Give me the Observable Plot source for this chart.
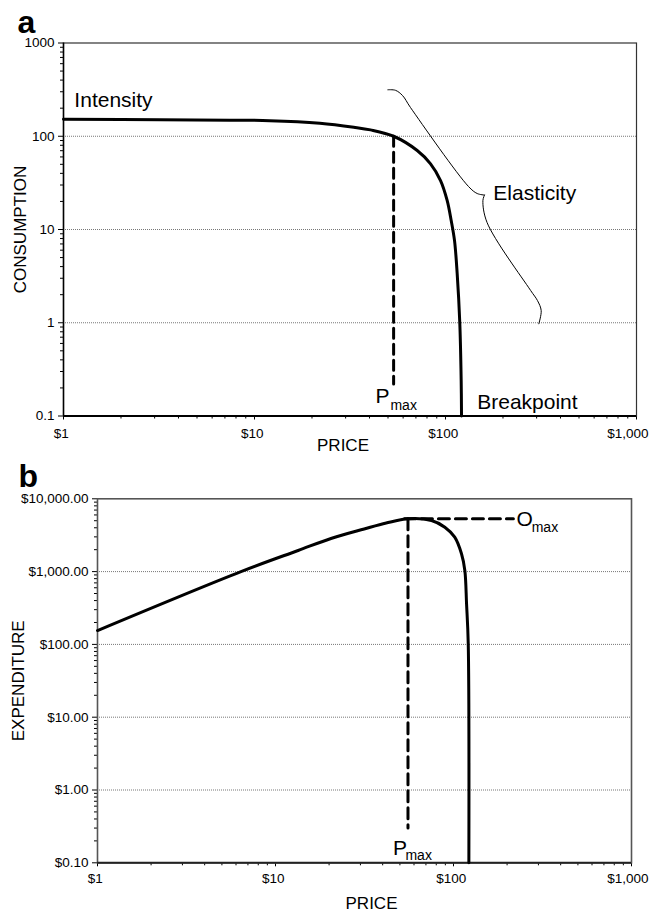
<!DOCTYPE html>
<html><head><meta charset="utf-8">
<script src="https://cdn.jsdelivr.net/npm/d3@7"></script>
<script src="https://cdn.jsdelivr.net/npm/@observablehq/plot@0.6"></script>
<style>
body{margin:0;background:#fff;}
#chart{width:649px;}
#chart svg{display:block;}
</style></head><body><div id="chart"></div>
<script>
// ---- Panel a: demand curve ----
const priceA = [1, 3.2, 12, 22, 33.1, 40.5, 53.5, 71.1, 83.5, 94.2, 102, 107.1, 111.5, 115.1, 118.8, 120.8, 121.3];
const consumptionA = [152, 150, 147, 138, 125, 117, 100, 70.3, 50.6, 33.5, 20.5, 12.5, 7.6, 3.38, 1.0, 0.24, 0.1];
const pmaxA = [53.5, 53.5];
const pmaxQA = [100, 0.22];
const braceUpperP = [49.9, 54.7, 59.6, 65.6, 132, 146.6, 160];
const braceUpperQ = [315, 311, 273, 203, 28.9, 24.3, 23.4];
const braceLowerP = [160, 157, 165, 279, 303, 317, 308];
const braceLowerQ = [23.4, 20.5, 11.9, 2.22, 1.73, 1.35, 0.975];
const gridA = [1, 10, 100];
const yTicksA = [0.1, 1, 10, 100, 1000];
const yTickLabelsA = ["0.1", "1", "10", "100", "1000"];
const xTicks = [1, 10, 100, 1000];
const xTickLabels = ["$1", "$10", "$100", "$1,000"];

// ---- Panel b: expenditure curve ----
const priceB = [1, 6.4, 13.4, 20.5, 31.5, 41.9, 55.6, 75.2, 89.4, 101.6, 110.9, 115.8, 118.4, 121, 122];
const expenditureB = [155, 1000, 1950, 2850, 3850, 4650, 5310, 5035, 4075, 2970, 1756, 1035, 361, 102, 0.1];
const pmaxB = [55.5, 55.5];
const pmaxEB = [5300, 0.3];
const omaxP = [53, 217];
const omaxE = [5300, 5300];
const gridB = [1, 10, 100, 1000];
const yTicksB = [0.1, 1, 10, 100, 1000, 10000];
const yTickLabelsB = ["$0.10", "$1.00", "$10.00", "$100.00", "$1,000.00", "$10,000.00"];

const font = "'Liberation Sans', Arial, Helvetica, sans-serif";
const tickFont = 13.5;
const minorOf = (dom, majors) => d3.scaleLog().domain(dom).ticks().filter(t => !majors.some(m => Math.abs(m - t) / m < 1e-9));
const xIdx = xTicks.map((t, i) => i);

function axes(yDomain, yTicks, yLabels, xLabelDy, lastDx) {
  return [
    Plot.axisY({ticks: minorOf(yDomain, yTicks), tickSize: 3, tickFormat: () => "", label: null}),
    Plot.axisY({ticks: yTicks, tickSize: 5, tickFormat: () => "", label: null}),
    Plot.axisX({ticks: minorOf([1, 1000], xTicks), tickSize: 3, tickFormat: () => "", label: null}),
    Plot.axisX({ticks: xTicks, tickSize: 4, tickFormat: () => "", label: null}),
    Plot.text(yTicks.map((t, i) => i), {y: i => yTicks[i], text: i => yLabels[i], frameAnchor: "left", dx: -9,
      textAnchor: "end", lineAnchor: "middle", fontSize: tickFont}),
    Plot.text(xIdx.slice(0, -1), {x: i => xTicks[i], text: i => xTickLabels[i], frameAnchor: "bottom", dy: xLabelDy, dx: -2.3,
      textAnchor: "middle", lineAnchor: "top", fontSize: tickFont}),
    Plot.text(xIdx.slice(-1), {x: i => xTicks[i], text: i => xTickLabels[i], frameAnchor: "bottom", dy: xLabelDy, dx: lastDx,
      textAnchor: "end", lineAnchor: "top", fontSize: tickFont})
  ];
}

const dataA = priceA.map((p, i) => ({p, q: consumptionA[i]}));
const pmaxLineA = pmaxA.map((p, i) => ({p, q: pmaxQA[i]}));
const brace = [
  ...braceUpperP.map((p, i) => ({p, q: braceUpperQ[i], s: "u"})),
  ...braceLowerP.map((p, i) => ({p, q: braceLowerQ[i], s: "l"}))
];

const chartA = Plot.plot({
  width: 649, height: 460,
  marginLeft: 63, marginRight: 13, marginTop: 42.5, marginBottom: 44.5,
  style: {fontFamily: font, fontSize: "13.5px", color: "#000", background: "#fff", overflow: "visible"},
  x: {type: "log", domain: [1, 1000]},
  y: {type: "log", domain: [0.1, 1000]},
  marks: [
    Plot.ruleY(gridA, {stroke: "#777", strokeDasharray: "1,1", strokeWidth: 1}),
    ...axes([0.1, 1000], yTicksA, yTickLabelsA, 12.8, 12),
    Plot.frame({stroke: "#333", strokeWidth: 1.2}),
    Plot.ruleX([1], {stroke: "#000", strokeWidth: 1.5}),
    Plot.ruleY([0.1], {stroke: "#000", strokeWidth: 2}),
    Plot.line(pmaxLineA, {x: "p", y: "q", stroke: "#000", strokeWidth: 3, strokeDasharray: "10,6"}),
    Plot.line(dataA, {x: "p", y: "q", stroke: "#000", strokeWidth: 3, curve: "catmull-rom"}),
    Plot.line(brace, {x: "p", y: "q", z: "s", stroke: "#000", strokeWidth: 1, curve: "catmull-rom"}),
    Plot.text(["Intensity"], {x: 1.14, y: 241, fontSize: 21, textAnchor: "start", lineAnchor: "middle"}),
    Plot.text(["Elasticity"], {x: 178, y: 24.5, fontSize: 21, textAnchor: "start", lineAnchor: "middle"}),
    Plot.text(["Breakpoint"], {x: 146.6, y: 0.139, fontSize: 21, textAnchor: "start", lineAnchor: "middle"}),
    Plot.text(["P"], {x: 43, y: 0.161, fontSize: 21, textAnchor: "start", lineAnchor: "middle"}),
    Plot.text(["max"], {x: 51.5, y: 0.131, fontSize: 14, textAnchor: "start", lineAnchor: "middle"}),
    Plot.text(["a"], {frameAnchor: "top-left", dx: -46, dy: -20.7, fontSize: 32, fontWeight: "bold", textAnchor: "start", lineAnchor: "middle"}),
    Plot.text(["CONSUMPTION"], {frameAnchor: "left", dx: -43, rotate: -90, fontSize: 17, lineAnchor: "middle", textAnchor: "middle"}),
    Plot.text(["PRICE"], {frameAnchor: "bottom", dx: -7, dy: 29.5, fontSize: 17, lineAnchor: "middle", textAnchor: "middle"})
  ]
});

const dataB = priceB.map((p, i) => ({p, e: expenditureB[i]}));
const pmaxLineB = pmaxB.map((p, i) => ({p, e: pmaxEB[i]}));
const omaxLine = omaxP.map((p, i) => ({p, e: omaxE[i]}));

const chartB = Plot.plot({
  width: 649, height: 452,
  marginLeft: 97, marginRight: 18, marginTop: 38.3, marginBottom: 49.7,
  style: {fontFamily: font, fontSize: "13.5px", color: "#000", background: "#fff", overflow: "visible"},
  x: {type: "log", domain: [1, 1000]},
  y: {type: "log", domain: [0.1, 10000]},
  marks: [
    Plot.ruleY(gridB, {stroke: "#777", strokeDasharray: "1,1", strokeWidth: 1}),
    ...axes([0.1, 10000], yTicksB, yTickLabelsB, 10.4, 17),
    Plot.frame({stroke: "#555", strokeWidth: 1.6}),
    Plot.ruleY([0.1], {stroke: "#222", strokeWidth: 2}),
    Plot.line(pmaxLineB, {x: "p", y: "e", stroke: "#000", strokeWidth: 3, strokeDasharray: "11,6"}),
    Plot.line(omaxLine, {x: "p", y: "e", stroke: "#000", strokeWidth: 3, strokeDasharray: "11,6"}),
    Plot.line(dataB, {x: "p", y: "e", stroke: "#000", strokeWidth: 3, curve: "catmull-rom"}),
    Plot.text(["O"], {x: 226, y: 5300, fontSize: 21, textAnchor: "start", lineAnchor: "middle"}),
    Plot.text(["max"], {x: 275, y: 4010, fontSize: 14, textAnchor: "start", lineAnchor: "middle"}),
    Plot.text(["P"], {x: 45.7, y: 0.156, fontSize: 21, textAnchor: "start", lineAnchor: "middle"}),
    Plot.text(["max"], {x: 53.7, y: 0.127, fontSize: 14, textAnchor: "start", lineAnchor: "middle"}),
    Plot.text(["b"], {frameAnchor: "top-left", dx: -79, dy: -22.5, fontSize: 32, fontWeight: "bold", textAnchor: "start", lineAnchor: "middle"}),
    Plot.text(["EXPENDITURE"], {frameAnchor: "left", dx: -78.5, rotate: -90, fontSize: 17, lineAnchor: "middle", textAnchor: "middle"}),
    Plot.text(["PRICE"], {frameAnchor: "bottom", dx: 7, dy: 40.6, fontSize: 17, lineAnchor: "middle", textAnchor: "middle"})
  ]
});

document.getElementById("chart").append(chartA, chartB);
</script>
</body></html>
